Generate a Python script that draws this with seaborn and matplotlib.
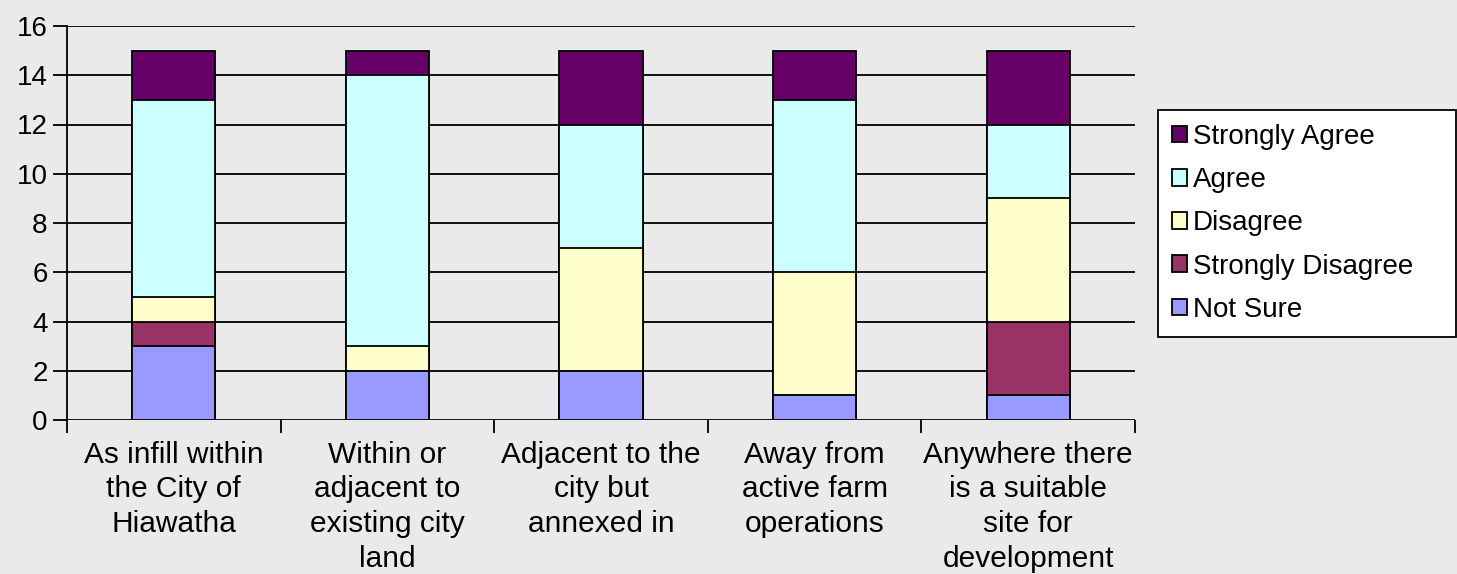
import numpy as np
import pandas as pd
import seaborn as sns
import matplotlib.pyplot as plt

# categories and response counts
categories = ["As infill within\nthe City of\nHiawatha",
              "Within or\nadjacent to\nexisting city\nland",
              "Adjacent to the\ncity but\nannexed in",
              "Away from\nactive farm\noperations",
              "Anywhere there\nis a suitable\nsite for\ndevelopment"]
responses = ["Not Sure", "Strongly Disagree", "Disagree", "Agree", "Strongly Agree"]
not_sure = [3, 2, 2, 1, 1]
strongly_disagree = [1, 0, 0, 0, 3]
disagree = [1, 1, 5, 5, 5]
agree = [8, 11, 5, 7, 3]
strongly_agree = [2, 1, 3, 2, 3]
colors = ["#9999FF", "#993366", "#FFFFCC", "#CCFFFF", "#660066"]

df = pd.DataFrame({"Not Sure": not_sure, "Strongly Disagree": strongly_disagree,
                   "Disagree": disagree, "Agree": agree,
                   "Strongly Agree": strongly_agree}, index=categories)
cum = df.cumsum(axis=1)

bg = "#EAEAEA"
sns.set_style("white", rc={"axes.facecolor": bg, "figure.facecolor": bg,
                           "text.color": "black", "xtick.color": "black",
                           "ytick.color": "black", "axes.labelcolor": "black"})
plt.rcParams["font.family"] = ["Liberation Sans", "DejaVu Sans"]

fig = plt.figure(figsize=(14.57, 5.74), dpi=100)
ax = fig.add_axes([67 / 1457, 1 - 420 / 574, (1135 - 67) / 1457, (420 - 26) / 574])

# draw the cumulative totals from the top down so each layer covers the one above
for resp, col in reversed(list(zip(responses, colors))):
    sns.barplot(x=categories, y=cum[resp].values, color=col, width=0.39,
                edgecolor="black", linewidth=1.3, saturation=1, ax=ax,
                label=resp, zorder=3)

handles, labels = ax.get_legend_handles_labels()
if ax.legend_ is not None:
    ax.legend_.remove()

ax.set_xlim(-0.5, 4.5)
ax.set_ylim(0, 16)
ax.set_yticks(np.arange(0, 17, 2))
ax.yaxis.grid(True, color="black", linewidth=1.3, zorder=0)
ax.set_axisbelow(True)
for s in ["top", "right", "bottom"]:
    ax.spines[s].set_visible(False)
ax.spines["left"].set_color("black")
ax.spines["left"].set_linewidth(1.3)

ax.tick_params(axis="y", length=10, width=1.3, color="black", labelsize=20, pad=4, left=True)
ax.set_xticks(range(5))
ax.set_xticklabels(categories, fontsize=21.5, linespacing=1.3)
ax.tick_params(axis="x", length=0, pad=15)
ax.set_xticks(np.arange(-0.5, 5, 1), minor=True)
ax.tick_params(axis="x", which="minor", length=9, width=1.3, color="black", bottom=True)

leg = fig.legend(handles, labels, loc="upper left",
                 bbox_to_anchor=(1158 / 1457, 1 - 338 / 574, (1456 - 1158) / 1457, (338 - 110) / 574),
                 mode="expand", fontsize=20, frameon=True, fancybox=False,
                 edgecolor="black", facecolor="white", framealpha=1,
                 handlelength=0.55, handleheight=0.55, handletextpad=0.2,
                 labelspacing=0.62, borderpad=0.5, borderaxespad=0)
leg.get_frame().set_linewidth(1.3)

fig.savefig("out.png", dpi=100, facecolor=bg)
